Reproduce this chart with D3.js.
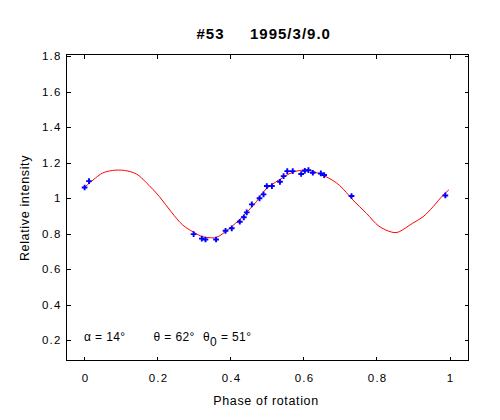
<!DOCTYPE html>
<html><head><meta charset="utf-8">
<script src="https://cdn.jsdelivr.net/npm/d3@7"></script>
<style>
body{margin:0;background:#fff;}
svg{display:block;font-family:"Liberation Sans",Arial,sans-serif;}
</style></head>
<body><svg id="c" width="500" height="420"></svg>
<script>
const titleParts = ["#53", "1995/3/9.0"];
const xLabel = "Phase of rotation";
const yLabel = "Relative intensity";
const xTicks = [0, 0.2, 0.4, 0.6, 0.8, 1];
const xTickLabels = ["0", "0.2", "0.4", "0.6", "0.8", "1"];
const yTicks = [0.2, 0.4, 0.6, 0.8, 1, 1.2, 1.4, 1.6, 1.8];
const yTickLabels = ["0.2", "0.4", "0.6", "0.8", "1", "1.2", "1.4", "1.6", "1.8"];

// observed points
const obsPhase = [0.002, 0.014, 0.3005, 0.323, 0.333, 0.362, 0.388, 0.405, 0.427, 0.438, 0.446, 0.460, 0.481, 0.492, 0.501, 0.515, 0.537, 0.547, 0.557, 0.572, 0.595, 0.605, 0.615, 0.627, 0.649, 0.658, 0.733, 0.990];
const obsValue = [1.058, 1.094, 0.795, 0.770, 0.765, 0.765, 0.814, 0.828, 0.865, 0.890, 0.918, 0.963, 0.997, 1.019, 1.066, 1.066, 1.090, 1.122, 1.150, 1.150, 1.134, 1.152, 1.156, 1.141, 1.137, 1.128, 1.010, 1.013];

// fitted curve samples
const fitPhase = [0.000, 0.025, 0.052, 0.079, 0.095, 0.111, 0.144, 0.171, 0.207, 0.239, 0.271, 0.299, 0.326, 0.345, 0.363, 0.399, 0.430, 0.472, 0.496, 0.534, 0.571, 0.600, 0.614, 0.664, 0.700, 0.737, 0.774, 0.808, 0.842, 0.855, 0.865, 0.900, 0.929, 0.956, 0.984, 1.000];
const fitValue = [1.055, 1.100, 1.140, 1.154, 1.156, 1.154, 1.134, 1.085, 1.006, 0.921, 0.846, 0.808, 0.780, 0.775, 0.777, 0.828, 0.885, 0.977, 1.043, 1.100, 1.143, 1.156, 1.156, 1.118, 1.070, 0.987, 0.912, 0.840, 0.807, 0.804, 0.810, 0.856, 0.893, 0.949, 1.015, 1.045];

// annotation
const annLabels = ["α = 14°", "θ = 62°"];
const annTheta0 = ["θ", "0", " = 51°"];

const svg = d3.select("#c");
const L = 66, R = 468, T = 54, B = 360;
const x = d3.scaleLinear().domain([-0.049, 1.052]).range([L, R]);
const y = d3.scaleLinear().domain([0.086, 1.81]).range([B, T]);

// frame
svg.append("rect").attr("x", L + 0.5).attr("y", T + 0.5).attr("width", R - L).attr("height", B - T)
  .attr("fill", "none").attr("stroke", "#000").attr("stroke-width", 1).attr("shape-rendering", "crispEdges");

function styleAxis(g) {
  g.select(".domain").remove();
  g.selectAll("line").attr("stroke", "#000").attr("shape-rendering", "crispEdges");
  g.selectAll("text").attr("fill", "#000").style("font-size", "11.5px")
    .style("letter-spacing", "1.2px")
    .style("font-family", '"Liberation Sans", Arial, sans-serif');
}
const gx = svg.append("g").attr("transform", `translate(0.5,${B + 0.5})`)
  .call(d3.axisBottom(x).tickValues(xTicks).tickFormat((d, i) => xTickLabels[i]).tickSizeInner(-4).tickSizeOuter(0).tickPadding(13))
  .call(styleAxis);
gx.selectAll("text").attr("dx", "0.6px");
svg.append("g").attr("transform", `translate(0.5,${T + 0.5})`)
  .call(d3.axisTop(x).tickValues(xTicks).tickFormat("").tickSizeInner(-4).tickSizeOuter(0))
  .call(styleAxis);
svg.append("g").attr("transform", `translate(${L + 0.5},0.5)`)
  .call(d3.axisLeft(y).tickValues(yTicks).tickFormat((d, i) => yTickLabels[i]).tickSizeInner(-4).tickSizeOuter(0).tickPadding(5))
  .call(styleAxis);
svg.append("g").attr("transform", `translate(${R + 0.5},0.5)`)
  .call(d3.axisRight(y).tickValues(yTicks).tickFormat("").tickSizeInner(-4).tickSizeOuter(0))
  .call(styleAxis);

// fitted curve
const fit = fitPhase.map((p, i) => [p, fitValue[i]]);
svg.append("path").datum(fit)
  .attr("d", d3.line().x(d => x(d[0])).y(d => y(d[1])).curve(d3.curveCatmullRom.alpha(0.5)))
  .attr("fill", "none").attr("stroke", "#ff0000").attr("stroke-width", 1);

// observations
const obs = obsPhase.map((p, i) => [p, obsValue[i]]);
svg.append("g").selectAll("path").data(obs).join("path")
  .attr("transform", d => `translate(${x(d[0])},${y(d[1])})`)
  .attr("d", d3.symbol(d3.symbolCross, 18))
  .attr("fill", "#0000ff");

// texts
const tg = svg.append("g").style("font-size", "15px").style("font-weight", "bold")
  .style("letter-spacing", "1px").attr("fill", "#000");
tg.append("text").attr("x", 196.5).attr("y", 38.5).text(titleParts[0]);
tg.append("text").attr("x", 250).attr("y", 38.5).text(titleParts[1]);

svg.append("text").attr("x", 266).attr("y", 405).attr("text-anchor", "middle")
  .style("font-size", "12.5px").style("letter-spacing", "0.65px").attr("fill", "#000").text(xLabel);
svg.append("text").attr("transform", "translate(29,208) rotate(-90)").attr("text-anchor", "middle")
  .style("font-size", "12.5px").style("letter-spacing", "0.65px").attr("fill", "#000").text(yLabel);

const ann = svg.append("g").style("font-size", "12px").style("letter-spacing", "0.4px").attr("fill", "#000");
ann.append("text").attr("x", 84).attr("y", 340.5).text(annLabels[0]);
ann.append("text").attr("x", 153.5).attr("y", 340.5).text(annLabels[1]);
const t3 = ann.append("text").attr("x", 203).attr("y", 340.5);
t3.append("tspan").text(annTheta0[0]);
t3.append("tspan").attr("dy", 5).text(annTheta0[1]);
t3.append("tspan").attr("dy", -5).text(annTheta0[2]);
</script>
</body></html>
